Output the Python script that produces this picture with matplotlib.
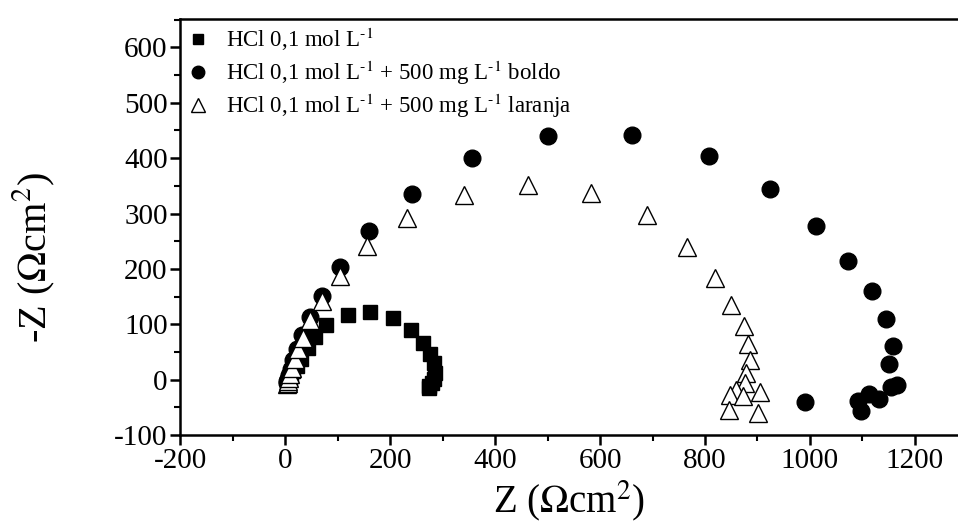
import numpy as np
import matplotlib
matplotlib.use("Agg")
import matplotlib.pyplot as plt

plt.rcParams['font.family'] = ['Liberation Serif', 'DejaVu Serif']
plt.rcParams['mathtext.fontset'] = 'stix'
plt.rcParams['axes.unicode_minus'] = False

# HCl 0,1 mol/L
hcl_x = [4, 5, 7, 9, 12, 16, 22, 31, 43, 57, 78, 119, 162, 205, 239, 262, 276, 284, 286, 283, 279, 275, 274]
hcl_y = [-8, -4, 0, 4, 9, 15, 24, 37, 58, 78, 99, 116, 122, 111, 90, 66, 46, 30, 13, 2, -6, -12, -15]

# + boldo
boldo_x = [3, 4, 6, 8, 11, 16, 22, 32, 48, 70, 105, 160, 241, 356, 500, 660, 808, 924, 1011, 1073,
           1119, 1144, 1159, 1151, 1166, 1154, 1132, 1113, 1092, 1098, 990]
boldo_y = [-6, -3, 2, 9, 20, 36, 56, 80, 113, 152, 204, 268, 336, 401, 440, 441, 404, 345, 277, 215,
           161, 109, 60, 28, -9, -14, -35, -26, -38, -56, -41]

# + laranja
laranja_x = [4, 5, 6, 8, 10, 13, 19, 25, 34, 48, 70, 105, 157, 233, 340, 462, 582, 689, 765, 819,
             850, 874, 882, 886, 878, 876, 860, 847, 905, 872, 846, 901]
laranja_y = [-8, -5, -2, 3, 10, 22, 37, 55, 76, 107, 142, 188, 241, 292, 333, 352, 337, 298, 239, 184,
             135, 97, 65, 35, 13, -5, -18, -28, -22, -30, -55, -60]

labels = [r'HCl 0,1 mol L$^{\text{-1}}$',
          r'HCl 0,1 mol L$^{\text{-1}}$ + 500 mg L$^{\text{-1}}$ boldo',
          r'HCl 0,1 mol L$^{\text{-1}}$ + 500 mg L$^{\text{-1}}$ laranja']

fig = plt.figure(figsize=(9.58, 5.30), dpi=100)
ax = fig.add_axes([0.188, 0.179, 0.812, 0.786])

ax.plot(hcl_x, hcl_y, 's', color='black', ms=10, label=labels[0])
ax.plot(boldo_x, boldo_y, 'o', color='black', ms=12, label=labels[1])
ax.plot(laranja_x, laranja_y, '^', mfc='white', mec='black', mew=1.0, ms=13, label=labels[2])

ax.set_xlim(-200, 1282)
ax.set_ylim(-100, 652)
ax.set_xticks(np.arange(-200, 1201, 200))
ax.set_xticks(np.arange(-100, 1300, 100), minor=True)
ax.set_yticks(np.arange(-100, 601, 100))
ax.set_yticks(np.arange(-50, 651, 100), minor=True)

for s in ['left', 'bottom', 'top']:
    ax.spines[s].set_linewidth(1.8)
ax.spines['right'].set_visible(False)

ax.tick_params(which='major', direction='out', length=7, width=1.8, labelsize=21, pad=2)
ax.tick_params(which='minor', direction='out', length=4, width=1.5)
ax.tick_params(top=False, right=False)

ax.set_xlabel(r'Z ($\Omega$cm$^2$)', fontsize=28, labelpad=3)
ax.set_ylabel(r'-Z ($\Omega$cm$^2$)', fontsize=29)
ax.yaxis.set_label_coords(-0.158, 0.425)

ax.legend(loc='upper left', frameon=False, fontsize=16.5, handletextpad=0.7,
          labelspacing=0.25, borderaxespad=0.0, borderpad=0.3, handlelength=1.0, markerscale=0.75)

fig.savefig('out.png', dpi=100)
